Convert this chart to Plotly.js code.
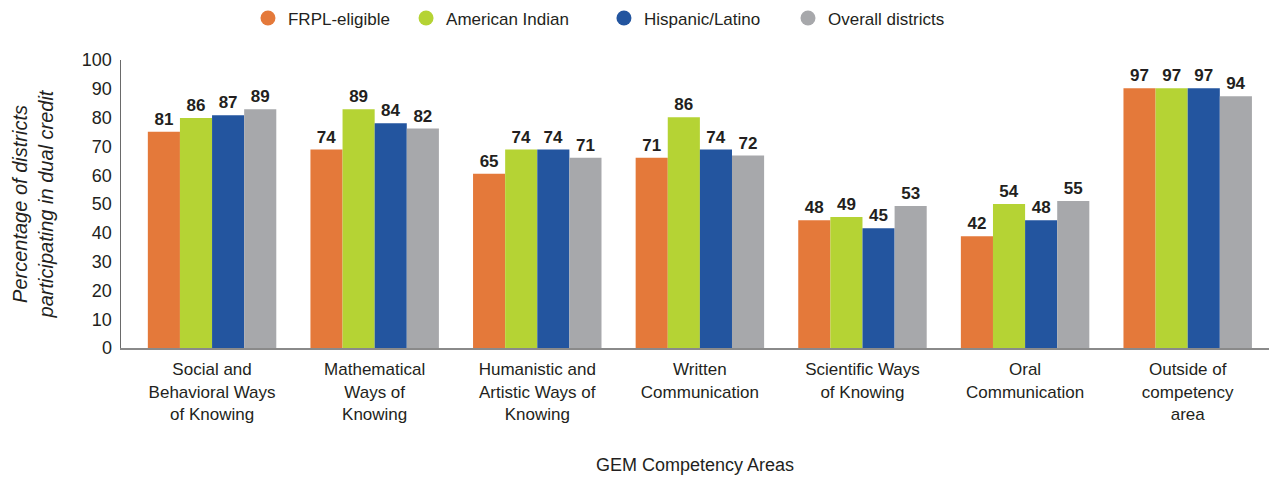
<!DOCTYPE html>
<html>
<head>
<meta charset="utf-8">
<script src="https://cdn.plot.ly/plotly-3.0.1.min.js"></script>
<style>html,body{margin:0;padding:0;background:#fff;}#chart{width:1269px;height:479px;}</style>
</head>
<body>
<div id="chart"></div>
<script>
// Category (tick) labels
const categories = [
  'Social and<br>Behavioral Ways<br>of Knowing',
  'Mathematical<br>Ways of<br>Knowing',
  'Humanistic and<br>Artistic Ways of<br>Knowing',
  'Written<br>Communication',
  'Scientific Ways<br>of Knowing',
  'Oral<br>Communication',
  'Outside of<br>competency<br>area'
];

// Series names
const seriesNames = ['FRPL-eligible', 'American Indian', 'Hispanic/Latino', 'Overall districts'];

// Printed value labels
const frplLabels    = [81, 74, 65, 71, 48, 42, 97];
const amIndLabels   = [86, 89, 74, 86, 49, 54, 97];
const hispLabels    = [87, 84, 74, 74, 45, 48, 97];
const overallLabels = [89, 82, 71, 72, 53, 55, 94];

// Bar heights as drawn in the reference
const frplBars    = [75.1, 68.9, 60.5, 66.1, 44.4, 38.8, 90.2];
const amIndBars   = [79.9, 82.9, 68.9, 80.1, 45.5, 50.0, 90.2];
const hispBars    = [80.8, 78.0, 68.9, 68.9, 41.6, 44.4, 90.2];
const overallBars = [82.9, 76.2, 66.1, 66.8, 49.3, 51.0, 87.4];

// Y axis ticks
const yTicks = [0, 10, 20, 30, 40, 50, 60, 70, 80, 90, 100];

const colors = ['#E4793A', '#B5D334', '#23559F', '#A7A8AB'];
const FONT = '"Liberation Sans", Arial, sans-serif';
const TXT = '#231F20';

const barsData = [frplBars, amIndBars, hispBars, overallBars];
const labelData = [frplLabels, amIndLabels, hispLabels, overallLabels];
const legendIds = ['legend', 'legend2', 'legend3', 'legend4'];
const legendX = [0.1106, 0.2483, 0.4207, 0.5810];

const traces = [];
barsData.forEach((vals, i) => {
  traces.push({
    type: 'bar',
    x: categories,
    y: vals,
    name: seriesNames[i],
    marker: {color: colors[i]},
    text: labelData[i].map(String),
    textposition: 'outside',
    textfont: {family: FONT, size: 17, color: TXT, weight: 'bold'},
    cliponaxis: false,
    showlegend: false,
    hoverinfo: 'skip'
  });
});
// Legend entries with circle markers
seriesNames.forEach((n, i) => {
  traces.push({
    type: 'scatter',
    mode: 'markers',
    x: [null], y: [null],
    name: n,
    legend: legendIds[i],
    marker: {color: colors[i], size: 15, symbol: 'circle'},
    showlegend: true,
    hoverinfo: 'skip'
  });
});

const layout = {
  width: 1269, height: 479,
  margin: {l: 121, r: 0, t: 60, b: 131},
  paper_bgcolor: '#fff', plot_bgcolor: '#fff',
  font: {family: FONT, color: TXT, size: 17},
  barmode: 'group',
  bargap: 0.21,
  bargroupgap: 0,
  showlegend: true,
  xaxis: {
    type: 'category',
    range: [-0.56, 6.5],
    showline: true, linecolor: '#8a8a8a', linewidth: 2,
    ticks: '', ticklabelstandoff: 5,
    showgrid: false, zeroline: false,
    tickfont: {family: FONT, size: 17, color: TXT},
    title: {text: 'GEM Competency Areas', font: {family: FONT, size: 18, color: TXT}, standoff: 36}
  },
  yaxis: {
    range: [0, 100],
    tickvals: yTicks,
    showline: true, linecolor: '#6a6a6a', linewidth: 1.5,
    ticks: '', ticklabelstandoff: 4,
    showgrid: false, zeroline: false,
    tickfont: {family: FONT, size: 18, color: TXT},
    title: {
      text: '<i>Percentage of districts<br>participating in dual credit</i>',
      font: {family: FONT, size: 20, color: TXT},
      standoff: 23
    }
  }
};
legendIds.forEach((id, i) => {
  layout[id] = {
    orientation: 'h',
    x: legendX[i], xanchor: 'left',
    y: 1.207, yanchor: 'top',
    font: {family: FONT, size: 17, color: TXT},
    itemsizing: 'trace',
    bgcolor: 'rgba(0,0,0,0)'
  };
});

Plotly.newPlot('chart', traces, layout, {displayModeBar: false, staticPlot: true});
</script>
</body>
</html>
